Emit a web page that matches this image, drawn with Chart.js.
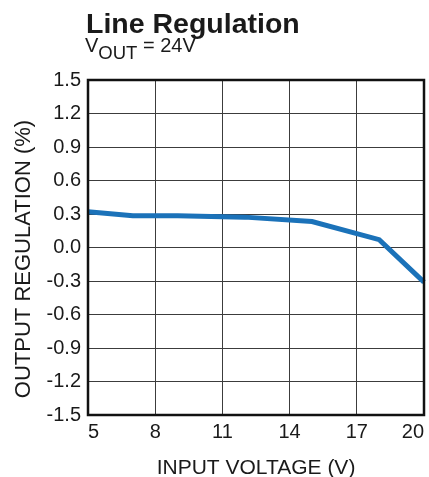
<!DOCTYPE html>
<html>
<head>
<meta charset="utf-8">
<script src="https://cdn.jsdelivr.net/npm/chart.js@4.4.1/dist/chart.umd.min.js"></script>
<style>
  html, body { margin: 0; padding: 0; background: #fff; }
  #wrap { position: relative; width: 429px; height: 477px; overflow: hidden; }
  #chart { position: absolute; left: 0; top: 0; }
  .title { position: absolute; left: 86px; top: 9px; font: bold 28.5px "Liberation Sans", Arial, sans-serif; line-height: 1; color: #1a1a1a; white-space: nowrap; }
  .subtitle { position: absolute; left: 85px; top: 35px; font: 20px "Liberation Sans", Arial, sans-serif; line-height: 1; color: #1a1a1a; white-space: nowrap; }
  .subtitle .sub { font-size: 18.5px; position: relative; top: 6.6px; }
</style>
</head>
<body>
<div id="wrap">
  <canvas id="chart" width="429" height="477"></canvas>
  <div class="title">Line Regulation</div>
  <div class="subtitle">V<span class="sub">OUT</span> = 24V</div>
</div>
<script>
// Input voltage (V) and output regulation (%) along the curve
const inputVoltage = [5, 7, 9, 12, 15, 18, 20];
const outputRegulation = [0.32, 0.285, 0.285, 0.272, 0.232, 0.07, -0.31];

// Axis ticks
const xTicks = [5, 8, 11, 14, 17, 20];
const yTicks = [-1.5, -1.2, -0.9, -0.6, -0.3, 0.0, 0.3, 0.6, 0.9, 1.2, 1.5];

const xTitle = 'INPUT VOLTAGE (V)';
const yTitle = 'OUTPUT REGULATION (%)';

const FONT = '"Liberation Sans", Arial, sans-serif';

// Frame around the plot and the two axis titles
const framePlugin = {
  id: 'frame',
  afterDraw(chart) {
    const { ctx, chartArea: a } = chart;
    ctx.save();
    ctx.strokeStyle = '#111';
    ctx.lineWidth = 2.5;
    ctx.strokeRect(a.left, a.top, a.right - a.left, a.bottom - a.top);

    ctx.fillStyle = '#1a1a1a';
    ctx.font = '21px ' + FONT;
    ctx.textAlign = 'center';
    ctx.textBaseline = 'alphabetic';
    ctx.fillText(xTitle, (a.left + a.right) / 2, 474);

    ctx.translate(30, 259);
    ctx.rotate(-Math.PI / 2);
    ctx.font = '22px ' + FONT;
    ctx.fillText(yTitle, 0, 0);
    ctx.restore();
  }
};

new Chart(document.getElementById('chart'), {
  type: 'line',
  data: {
    datasets: [{
      data: inputVoltage.map((x, i) => ({ x, y: outputRegulation[i] })),
      borderColor: '#1b72b9',
      borderWidth: 5,
      pointRadius: 0,
      tension: 0,
      fill: false,
      clip: false
    }]
  },
  plugins: [framePlugin],
  options: {
    responsive: false,
    animation: false,
    layout: { padding: { top: 80, right: 5, left: 0, bottom: 0 } },
    plugins: { legend: { display: false }, tooltip: { enabled: false }, title: { display: false } },
    scales: {
      x: {
        type: 'linear',
        min: xTicks[0],
        max: xTicks[xTicks.length - 1],
        afterBuildTicks: s => { s.ticks = xTicks.map(v => ({ value: v })); },
        afterFit: s => { s.height = 62; s.paddingLeft = 0; s.paddingRight = 0; },
        grid: { color: '#3c3c3c', lineWidth: 1, drawTicks: false },
        border: { display: false },
        ticks: { color: '#1a1a1a', font: { family: FONT, size: 20 }, padding: 5, maxRotation: 0, align: 'inner' }
      },
      y: {
        type: 'linear',
        min: yTicks[0],
        max: yTicks[yTicks.length - 1],
        afterBuildTicks: s => { s.ticks = yTicks.map(v => ({ value: v })); },
        afterFit: s => { s.width = 88; s.paddingTop = 0; s.paddingBottom = 0; },
        grid: { color: '#3c3c3c', lineWidth: 1, drawTicks: false },
        border: { display: false },
        ticks: {
          color: '#1a1a1a',
          font: { family: FONT, size: 20 },
          padding: 7,
          callback: v => (Math.abs(v) < 1e-9 ? 0 : v).toFixed(1)
        }
      }
    }
  }
});
</script>
</body>
</html>
